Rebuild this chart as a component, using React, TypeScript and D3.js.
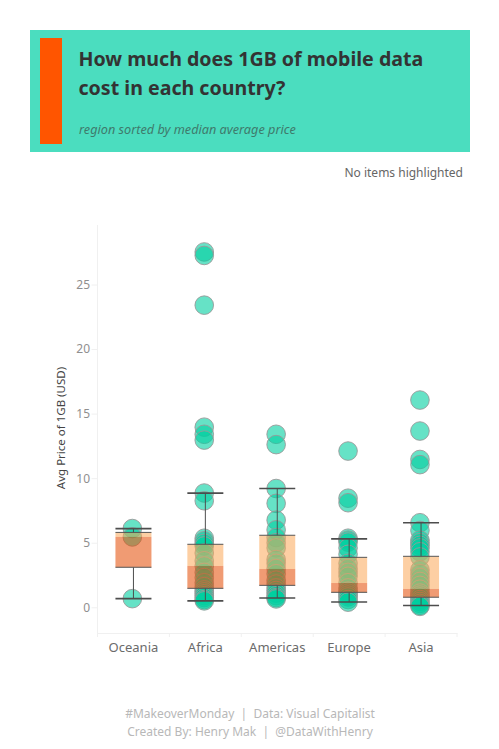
import { useEffect, useRef } from "react";
import * as d3 from "d3";

const regions = ["Oceania", "Africa", "Americas", "Europe", "Asia"];
const yTicks = [0, 5, 10, 15, 20, 25];

// avg price per country
const oceania = [6.1, 5.45, 0.67];
const africa = [27.52, 27.25, 23.4, 13.95, 13.4, 12.95, 8.85, 8.25, 5.35, 5.15, 4.95, 4.75, 4.2, 3.6, 3.2, 2.7, 2.3, 1.9, 1.6, 1.35, 1.2, 1.05, 0.9, 0.75, 0.6, 0.5];
const americas = [13.4, 12.6, 9.2, 8.05, 6.75, 6.0, 5.4, 5.0, 4.6, 3.7, 3.4, 3.0, 2.6, 2.1, 1.8, 1.5, 1.3, 1.1, 0.9, 0.75, 0.65];
const europe = [12.1, 8.45, 8.1, 5.35, 5.2, 5.05, 4.6, 4.1, 3.4, 3.0, 2.7, 2.4, 1.9, 1.5, 1.25, 1.1, 0.95, 0.8, 0.6, 0.4];
const asia = [16.05, 13.65, 11.45, 11.05, 6.55, 5.95, 5.2, 5.0, 4.8, 4.6, 4.3, 3.9, 2.9, 2.6, 2.3, 2.0, 1.7, 1.4, 1.1, 0.95, 0.8, 0.6, 0.45, 0.3, 0.15, 0.07];
const pointsByRegion = [oceania, africa, americas, europe, asia];

const whiskerHigh = [6.1, 8.85, 9.2, 5.3, 6.55];
const upperHinge = [5.8, 4.88, 5.58, 3.87, 3.95];
const medians = [5.45, 3.2, 2.97, 1.88, 1.42];
const lowerHinge = [3.1, 1.47, 1.7, 1.16, 0.78];
const whiskerLow = [0.67, 0.5, 0.72, 0.41, 0.14];

const App = () => {
  const svgRef = useRef<SVGSVGElement>(null);

  useEffect(() => {
    if (!svgRef.current) return;
    const svg = d3.select(svgRef.current);
    svg.selectAll("*").remove();

    const font = "'Noto Sans', sans-serif";
    const left = 97.5;
    const right = 457;
    const top = 225;
    const bottom = 633;

    const x = d3.scaleBand().domain(regions).range([left, right]);
    const y = d3.scaleLinear().domain([0, 25]).range([607.3, 284.5]);

    // header
    svg.append("rect").attr("x", 30).attr("y", 30).attr("width", 440).attr("height", 122).attr("fill", "#4BDDBF");
    svg.append("rect").attr("x", 40).attr("y", 38).attr("width", 22).attr("height", 106).attr("fill", "#FF5500");
    const title = svg.append("g").attr("font-family", font).attr("font-weight", 700).attr("font-size", 19.6).attr("fill", "#333333");
    title.append("text").attr("x", 78.5).attr("y", 66).text("How much does 1GB of mobile data");
    title.append("text").attr("x", 78.5).attr("y", 95).text("cost in each country?");
    svg.append("text").attr("x", 79).attr("y", 134).attr("font-family", font).attr("font-style", "italic").attr("font-size", 12.7).attr("fill", "#3f7a6c").text("region sorted by median average price");
    svg.append("text").attr("x", 463).attr("y", 177).attr("text-anchor", "end").attr("font-family", font).attr("font-size", 12).attr("fill", "#666666").text("No items highlighted");

    // axes
    const yAxis = svg
      .append("g")
      .attr("transform", `translate(${left},0)`)
      .call(d3.axisLeft(y).tickValues(yTicks).tickSize(6).tickPadding(1.5));
    yAxis.select(".domain").remove();
    yAxis.selectAll("line").attr("stroke", "#f0f0f0");
    yAxis.selectAll("text").attr("font-family", font).attr("font-size", 12).attr("fill", "#8f8f8f");
    svg.append("line").attr("x1", left).attr("x2", left).attr("y1", top).attr("y2", bottom + 4).attr("stroke", "#f0f0f0");

    const xAxis = svg
      .append("g")
      .attr("transform", `translate(0,${bottom})`)
      .call(d3.axisBottom(x).tickSize(0).tickPadding(10));
    xAxis.select(".domain").attr("stroke", "#f0f0f0");
    xAxis.selectAll("text").attr("font-family", font).attr("font-size", 13).attr("fill", "#6b6b6b");
    xAxis
      .selectAll(".sep")
      .data(x.domain().slice(1).concat(["end"]))
      .join("line")
      .attr("x1", (d) => (d === "end" ? right : x(d)!))
      .attr("x2", (d) => (d === "end" ? right : x(d)!))
      .attr("y1", 0)
      .attr("y2", 4)
      .attr("stroke", "#f0f0f0");

    svg
      .append("text")
      .attr("transform", `translate(65,428) rotate(-90)`)
      .attr("text-anchor", "middle")
      .attr("font-family", font)
      .attr("font-size", 11.5)
      .attr("fill", "#444444")
      .text("Avg Price of 1GB (USD)");

    const cx = (i: number) => x(regions[i])! + x.bandwidth() / 2;

    // country dots sit about a pixel left of the box centre
    svg
      .append("g")
      .selectAll("g")
      .data(pointsByRegion)
      .join("g")
      .selectAll("circle")
      .data((d, i) => d.map((v) => ({ v, i })))
      .join("circle")
      .attr("cx", (d) => cx(d.i) - 1.1)
      .attr("cy", (d) => y(d.v))
      .attr("r", 9.3)
      .attr("fill", "#00CFA0")
      .attr("fill-opacity", 0.6)
      .attr("stroke", "#999999")
      .attr("stroke-width", 0.9);

    // box plots
    const boxW = 36;
    regions.forEach((_, i) => {
      const g = svg.append("g");
      g.append("rect").attr("x", cx(i) - boxW / 2).attr("width", boxW).attr("y", y(upperHinge[i])).attr("height", y(medians[i]) - y(upperHinge[i])).attr("fill", "#FBA757").attr("fill-opacity", 0.55);
      g.append("rect").attr("x", cx(i) - boxW / 2).attr("width", boxW).attr("y", y(medians[i])).attr("height", y(lowerHinge[i]) - y(medians[i])).attr("fill", "#E44D05").attr("fill-opacity", 0.56);
      g.append("line").attr("x1", cx(i)).attr("x2", cx(i)).attr("y1", y(whiskerHigh[i])).attr("y2", y(upperHinge[i])).attr("stroke", "#4d4d4d");
      g.append("line").attr("x1", cx(i)).attr("x2", cx(i)).attr("y1", y(lowerHinge[i])).attr("y2", y(whiskerLow[i])).attr("stroke", "#4d4d4d");
      [upperHinge[i], lowerHinge[i]].forEach((v) => {
        g.append("line").attr("x1", cx(i) - boxW / 2).attr("x2", cx(i) + boxW / 2).attr("y1", y(v)).attr("y2", y(v)).attr("stroke", "#555555");
      });
      [whiskerHigh[i], whiskerLow[i]].forEach((v) => {
        g.append("line").attr("x1", cx(i) - boxW / 2).attr("x2", cx(i) + boxW / 2).attr("y1", y(v)).attr("y2", y(v)).attr("stroke", "#4d4d4d").attr("stroke-width", 1.7);
      });
    });

    // footer
    const foot = svg.append("g").attr("font-family", font).attr("font-size", 12).attr("fill", "#b8b8b8").attr("text-anchor", "middle");
    foot.append("text").attr("x", 250).attr("y", 718).text("#MakeoverMonday\u00A0\u00A0|\u00A0\u00A0Data: Visual Capitalist");
    foot.append("text").attr("x", 250).attr("y", 736).text("Created By: Henry Mak\u00A0\u00A0|\u00A0\u00A0@DataWithHenry");
  }, []);

  return <svg ref={svgRef} width={499} height={749} style={{ position: "absolute", left: 0, top: 0, background: "#fff" }}></svg>;
};

export default App;
